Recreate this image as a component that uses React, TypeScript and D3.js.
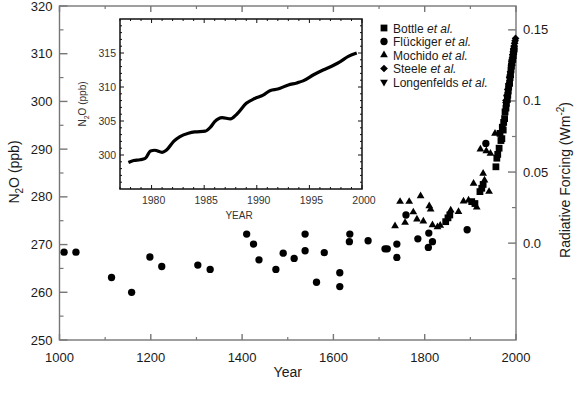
import * as d3 from "d3";

// ice core / firn / air data, [year, N2O ppb]
const battle: [number, number][] = [
  [1846, 274.8], [1851, 275.6], [1855, 276.2], [1903, 279.0], [1910, 278.6],
  [1921, 281.1], [1925, 281.8], [1928, 282.6], [1956, 286.3], [1958, 288.1],
  [1960, 288.9], [1963, 290.2], [1965, 293.3], [1967, 291.8], [1969, 292.2],
  [1970, 294.6], [1972, 294.0], [1973, 295.6], [1975, 296.4], [1976, 297.8],
  [1978, 298.6], [1979, 299.6], [1981, 300.4], [1982, 301.3], [1983, 302.2],
  [1984, 303.0], [1986, 303.8], [1987, 305.0], [1988, 305.6], [1989, 306.6],
  [1990, 307.4], [1991, 308.2], [1993, 308.8], [1994, 309.6], [1995, 310.4],
  [1996, 311.0],
];
const fluckiger: [number, number][] = [
  [1010, 268.4], [1036, 268.4], [1114, 263.1], [1158, 260.0], [1198, 267.4],
  [1224, 265.4], [1303, 265.7], [1330, 264.8], [1410, 272.2], [1425, 270.1],
  [1437, 266.8], [1474, 264.8], [1490, 268.2], [1514, 267.1], [1538, 272.2],
  [1538, 268.7], [1563, 262.1], [1580, 268.3], [1614, 264.1], [1614, 261.2],
  [1635, 270.6], [1636, 272.2], [1676, 270.8], [1713, 269.1], [1718, 269.1],
  [1739, 270.1], [1739, 267.3], [1759, 276.2], [1785, 271.2], [1809, 272.4],
  [1817, 270.6], [1808, 269.4], [1893, 273.1], [1934, 291.2],
];
const machida: [number, number][] = [
  [1735, 273.9], [1746, 279.0], [1757, 274.6], [1766, 279.0], [1775, 276.8],
  [1783, 275.3], [1791, 280.2], [1797, 274.9], [1810, 278.1], [1813, 277.4],
  [1817, 274.1], [1828, 273.7], [1834, 274.0], [1857, 277.2], [1874, 276.9],
  [1885, 279.1], [1896, 279.3], [1907, 282.8], [1914, 277.8], [1922, 290.0],
  [1928, 284.9], [1931, 283.5], [1935, 289.6], [1941, 281.1], [1944, 289.1],
  [1954, 293.3],
];
const steele: [number, number][] = [
  [1978, 300.2], [1980, 301.2], [1982, 302.5], [1984, 303.7], [1986, 305.0],
  [1988, 306.2], [1990, 307.6], [1991, 308.4], [1992, 309.1], [1993, 309.8],
  [1994, 310.4], [1995, 311.0], [1996, 311.6], [1997, 312.2], [1998, 312.7],
  [1999, 313.2],
];
const langenfelds: [number, number][] = [
  [1978, 299.4], [1981, 301.0], [1984, 302.8], [1987, 304.9], [1990, 307.2],
  [1993, 309.4], [1995, 310.6],
];

// inset: global mean record
const insetYears = [
  1977.8, 1978.3, 1978.9, 1979.4, 1979.9, 1980.3, 1981.0, 1981.4, 1982.1, 1982.7,
  1983.5, 1984.1, 1985.1, 1985.6, 1986.0, 1986.7, 1987.5, 1988.1, 1989.0, 1989.8,
  1990.6, 1991.3, 1992.0, 1993.0, 1993.8, 1994.4, 1995.4, 1996.3, 1997.3, 1997.9,
  1998.7, 1999.5,
];
const insetPpb = [
  298.9, 299.2, 299.3, 299.5, 300.6, 300.7, 300.4, 300.7, 302.0, 302.7,
  303.2, 303.4, 303.5, 304.1, 304.9, 305.5, 305.3, 306.0, 307.6, 308.3,
  308.8, 309.5, 309.7, 310.3, 310.6, 310.9, 311.8, 312.5, 313.2, 313.7,
  314.5, 315.0,
];

const yTicks = [250, 260, 270, 280, 290, 300, 310, 320];
const xTicks = [1000, 1200, 1400, 1600, 1800, 2000];
const rTicks = [0, 0.05, 0.1, 0.15];
const rLabels = ["0.0", "0.05", "0.1", "0.15"];
const insetXTicks = [1980, 1985, 1990, 1995, 2000];
const insetYTicks = [300, 305, 310, 315];

const legendNames = ["Bottle", "Flückiger", "Mochido", "Steele", "Longenfelds"];

const FONT = "'Liberation Sans', Arial, Helvetica, sans-serif";

export default function App() {
  const x = d3.scaleLinear().domain([1000, 2000]).range([59.5, 516]);
  const y = d3.scaleLinear().domain([250, 320]).range([340, 6]);
  const r = d3.scaleLinear().domain([0, 0.15]).range([y(270.3), y(315)]);

  const ix = d3.scaleLinear().domain([1977, 2000]).range([120, 362]);
  const iy = d3.scaleLinear().domain([295, 320]).range([189, 19]);

  const sq = d3.symbol(d3.symbolSquare, 46)();
  const ci = d3.symbol(d3.symbolCircle, 42)();
  const tri = d3.symbol(d3.symbolTriangle, 26)();
  const dia = d3.symbol(d3.symbolSquare, 30)();

  const axisCol = "#777";
  const txt = "#1a1a1a";

  const line = d3
    .line<number>()
    .x((_, i) => ix(insetYears[i]))
    .y((d) => iy(d))
    .curve(d3.curveMonotoneX);

  const [x0, x1] = x.range();
  const [y0, y1] = y.range();
  const [ix0, ix1] = ix.range();
  const [iy0, iy1] = iy.range();

  const minorX = d3.range(1100, 2000, 200);
  const minorY = d3.range(255, 320, 10);
  const minorR = [-0.025, 0.025, 0.075, 0.125];

  const series = [
    { data: battle, path: sq, rot: 0 },
    { data: fluckiger, path: ci, rot: 0 },
    { data: machida, path: tri, rot: 0 },
    { data: steele, path: dia, rot: 45 },
    { data: langenfelds, path: tri, rot: 180 },
  ];

  return (
    <svg
      width={577}
      height={397}
      style={{ position: "absolute", left: 0, top: 0, background: "#fff" }}
      fontFamily={FONT}
    >
      {/* main frame */}
      <rect x={x0} y={y1} width={x1 - x0} height={y0 - y1} fill="none" stroke={axisCol} strokeWidth={1.4} />

      {xTicks.map((t) => (
        <g key={"xt" + t}>
          <line x1={x(t)} x2={x(t)} y1={y0} y2={y0 - 6} stroke={axisCol} strokeWidth={1.4} />
          <line x1={x(t)} x2={x(t)} y1={y1} y2={y1 + 6} stroke={axisCol} strokeWidth={1.4} />
          <text x={x(t)} y={y0 + 22} textAnchor="middle" fontSize={13} fill={txt}>
            {t}
          </text>
        </g>
      ))}
      {minorX.map((t) => (
        <g key={"xm" + t}>
          <line x1={x(t)} x2={x(t)} y1={y0} y2={y0 - 3} stroke={axisCol} strokeWidth={1.2} />
          <line x1={x(t)} x2={x(t)} y1={y1} y2={y1 + 3} stroke={axisCol} strokeWidth={1.2} />
        </g>
      ))}

      {yTicks.map((t) => (
        <g key={"yt" + t}>
          <line x1={x0} x2={x0 + 8} y1={y(t)} y2={y(t)} stroke={axisCol} strokeWidth={1.4} />
          <text x={x0 - 7} y={y(t) + 4.5} textAnchor="end" fontSize={13} fill={txt}>
            {t}
          </text>
        </g>
      ))}
      {minorY.map((t) => (
        <line key={"ym" + t} x1={x0} x2={x0 + 4} y1={y(t)} y2={y(t)} stroke={axisCol} strokeWidth={1.2} />
      ))}

      {rTicks.map((t, i) => (
        <g key={"rt" + t}>
          <line x1={x1} x2={x1 - 8} y1={r(t)} y2={r(t)} stroke={axisCol} strokeWidth={1.4} />
          <text x={x1 + 7} y={r(t) + 4.5} fontSize={13} fill={txt}>
            {rLabels[i]}
          </text>
        </g>
      ))}
      {minorR.map((t) => (
        <line key={"rm" + t} x1={x1} x2={x1 - 4} y1={r(t)} y2={r(t)} stroke={axisCol} strokeWidth={1.2} />
      ))}

      {/* axis titles */}
      <text x={(x0 + x1) / 2} y={377} textAnchor="middle" fontSize={14} fill={txt}>
        Year
      </text>
      <text transform="translate(19,172) rotate(-90)" textAnchor="middle" fontSize={14} fill={txt}>
        N<tspan fontSize={10} dy={4}>2</tspan>
        <tspan dy={-4}>O (ppb)</tspan>
      </text>
      <text transform="translate(570,180) rotate(-90)" textAnchor="middle" fontSize={14} fill={txt}>
        Radiative Forcing (Wm<tspan fontSize={10} dy={-6}>-2</tspan>
        <tspan dy={6}>)</tspan>
      </text>

      {/* data points */}
      {series.map((s, si) =>
        s.data.map((d, i) => (
          <path
            key={"p" + si + "-" + i}
            d={s.path as string}
            transform={`translate(${x(d[0])},${y(d[1])}) rotate(${s.rot})`}
            fill="#000"
          />
        ))
      )}

      {/* legend */}
      {series.map((s, i) => (
        <g key={"lg" + i} transform={`translate(384,${28 + i * 13.5})`}>
          <path d={s.path as string} transform={`rotate(${s.rot})`} fill="#000" />
          <text x={9} y={4.5} fontSize={12} fill={txt}>
            {legendNames[i]} <tspan fontStyle="italic">et al.</tspan>
          </text>
        </g>
      ))}

      {/* inset */}
      <rect x={ix0} y={iy1} width={ix1 - ix0} height={iy0 - iy1} fill="#fff" stroke="#111" strokeWidth={1.5} />
      {d3.range(1977, 2001).map((t) => {
        const len = t % 5 === 0 ? 4 : 2;
        return (
          <g key={"ixm" + t}>
            <line x1={ix(t)} x2={ix(t)} y1={iy0} y2={iy0 - len} stroke="#111" strokeWidth={1} />
            <line x1={ix(t)} x2={ix(t)} y1={iy1} y2={iy1 + len} stroke="#111" strokeWidth={1} />
          </g>
        );
      })}
      {d3.range(296, 320).map((t) => {
        const len = t % 5 === 0 ? 4 : 2;
        return (
          <g key={"iym" + t}>
            <line x1={ix0} x2={ix0 + len} y1={iy(t)} y2={iy(t)} stroke="#111" strokeWidth={1} />
            <line x1={ix1} x2={ix1 - len} y1={iy(t)} y2={iy(t)} stroke="#111" strokeWidth={1} />
          </g>
        );
      })}
      {insetXTicks.map((t) => (
        <text key={"ixl" + t} x={ix(t) + 2} y={iy0 + 15} textAnchor="middle" fontSize={10.5} fill="#333">
          {t}
        </text>
      ))}
      {insetYTicks.map((t) => (
        <text key={"iyl" + t} x={ix0 - 4} y={iy(t) + 4} textAnchor="end" fontSize={10.5} fill="#333">
          {t}
        </text>
      ))}
      <text x={239} y={219} textAnchor="middle" fontSize={10} fill="#333">
        YEAR
      </text>
      <text transform="translate(86,104) rotate(-90)" textAnchor="middle" fontSize={10} fill="#333">
        N<tspan fontSize={7} dy={3}>2</tspan>
        <tspan dy={-3}>O  (ppb)</tspan>
      </text>
      <path d={line(insetPpb) ?? ""} fill="none" stroke="#000" strokeWidth={3.2} strokeLinejoin="round" />
    </svg>
  );
}
